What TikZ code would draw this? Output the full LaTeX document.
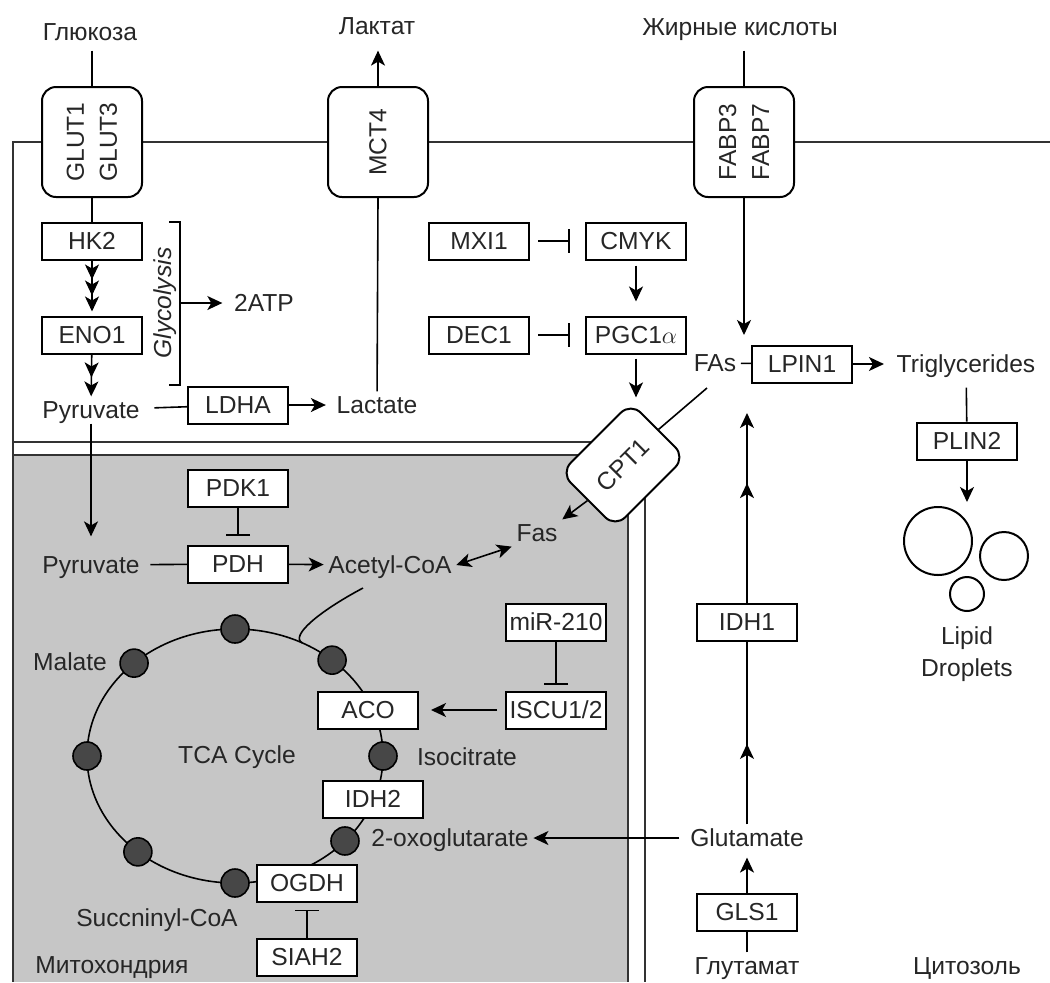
\documentclass[tikz,border=0pt]{standalone}
\usepackage{fontspec}
\setmainfont{Liberation Sans}
\usetikzlibrary{arrows.meta,calc,decorations.markings}
\newcommand\mainsz{\fontsize{12.3}{15}\selectfont}

\begin{document}
\begin{tikzpicture}[x=0.5pt, y=-0.5pt, line width=0.8pt,
   arrhd/.tip={Stealth[length=7.5pt,width=7pt,inset=2pt]}, >=arrhd,
   txt/.style={inner sep=2pt, text height=8.8pt, text depth=0pt, font=\mainsz, text=black!85},
   enzyme/.style={txt, draw=black, line width=1pt, fill=white, minimum width=50pt, minimum height=18.5pt, inner sep=0pt},
   pbox/.style={draw=black, line width=1pt, fill=white, rounded corners=7pt, inner sep=0pt, text=black!85},
   porter/.style={pbox, rotate=90, minimum width=55pt, minimum height=50pt, align=center, font=\fontsize{12.3}{16.5}\selectfont},
   metab/.style={circle, draw=black, fill=black!72, minimum size=14pt, inner sep=0pt},
   drop/.style={circle, draw=black, line width=1pt, inner sep=0pt},
   inhib/.style={-{Bar[width=12pt]}},
   membr/.style={line width=1.2pt, draw=black!80},
   midarr/.style={postaction={decorate}, decoration={markings, mark=at position #1 with {\arrow{arrhd}}}}]

   \useasboundingbox (0,0) rectangle (1050,982);

   % cell and mitochondrion
   \fill[gray!45] (13,455) rectangle (628,982);
   \draw[membr] (1050,142) -- (13,142) -- (13,982);
   \draw[membr] (13,442) -- (640,442);
   \draw[membr] (13,455) -- (620,455);
   \draw[membr] (628,480) -- (628,982);
   \draw[membr] (645,470) -- (645,982);

   % TCA cycle
   \coordinate (tca) at (235,756);
   \draw (tca) ellipse (148 and 127);
   \foreach \a in {0,42,90,131,180,227,270,311}
      \node[metab] at ($(tca)+(\a:148 and 127)$) {};

   % outside
   \node[txt] (glucose) at (90,32) {Глюкоза};
   \node[txt] (lactout) at (377,26) {Лактат};
   \node[txt] (fatacid) at (740,27) {Жирные кислоты};

   \node[porter] (glut) at (92,142) {GLUT1\\GLUT3};
   \node[porter] (mct4) at (378,142) {MCT4};
   \node[porter] (fabp) at (744,142) {FABP3\\FABP7};

   % glycolysis
   \node[enzyme] (hk2) at (92,241) {HK2};
   \node[enzyme] (eno1) at (92,335) {ENO1};
   \node[txt] (pyrc) at (91,410) {Pyruvate};
   \node[txt, rotate=90, font=\mainsz\itshape] (glyclbl) at (163,303) {Glycolysis};
   \node[txt] (atp) at (264,303) {2ATP};
   \node[enzyme] (ldha) at (238,405) {LDHA};
   \node[txt] (lactin) at (377,405) {Lactate};
   \coordinate (glyc) at (180,303);

   \node[enzyme] (mxi1) at (479,241) {MXI1};
   \node[enzyme] (cmyk) at (636,241) {CMYK};
   \node[enzyme] (dec1) at (479,335) {DEC1};
   \node[enzyme] (pgc1a) at (636,335) {PGC1$\alpha$};

   % lipids
   \node[txt] (fas2) at (715,363) {FAs};
   \node[enzyme] (lpin1) at (802,364) {LPIN1};
   \node[txt] (trig) at (966,364) {Triglycerides};
   \node[enzyme] (plin2) at (967,441) {PLIN2};
   \node[drop, minimum size=34pt] (drop1) at (938,541) {};
   \node[drop, minimum size=24pt] (drop2) at (1004,556) {};
   \node[drop, minimum size=17pt] (drop3) at (967,594) {};
   \node[align=center, inner sep=0pt, font=\fontsize{12.3}{16}\selectfont, text=black!85] (lipid) at (967,654) {Lipid\\Droplets};
   \coordinate (dropin) at (967,502);
   \coordinate (fajoin) at (744,335);
   \coordinate (fain) at (707,388);

   \node[pbox, txt, inner sep=0pt, rotate=45, minimum width=49.5pt, minimum height=38.5pt] (cpt1) at (623,465) {CPT1};

   % glutamine
   \node[enzyme] (idh1) at (747,622) {IDH1};
   \node[txt] (glu) at (747,838) {Glutamate};
   \node[enzyme] (gls1) at (747,912) {GLS1};
   \node[txt] (glnt) at (747,966) {Глутамат};
   \node[txt] (cyto) at (967,966) {Цитозоль};
   \coordinate (idhout) at (747,413);

   % mitochondrion
   \node[txt] (pyrm) at (91,565) {Pyruvate};
   \node[enzyme] (pdk1) at (238,488) {PDK1};
   \node[enzyme] (pdh) at (238,564) {PDH};
   \node[txt] (acoa) at (390,565) {Acetyl-CoA};
   \node[txt] (fas) at (537,533) {Fas};
   \node[enzyme] (mir) at (556,622) {miR-210};
   \node[enzyme] (iscu) at (556,710) {ISCU1/2};
   \node[enzyme] (aco) at (368,710) {ACO};
   \node[enzyme] (idh2) at (373,799) {IDH2};
   \node[enzyme] (ogdh) at (307,883) {OGDH};
   \node[enzyme] (siah2) at (307,957) {SIAH2};
   \node[txt] (malate) at (70,662) {Malate};
   \node[txt] (tcalbl) at (237,755) {TCA Cycle};
   \node[txt] (isocit) at (467,757) {Isocitrate};
   \node[txt] (oxoglu) at (450,838) {2-oxoglutarate};
   \node[txt] (succ) at (157,918) {Succninyl-CoA};
   \node[txt] (mito) at (112,965) {Митохондрия};
   \coordinate (acin) at (363,588);
   \coordinate (tcain) at ($(tca)+(-63:148 and 127)$);

   % connectors
   \draw[shorten <=2.5pt] (glut.east |- glucose.south) -- (glut.east);
   \draw[->, shorten >=5.5pt] (mct4.east) -- (mct4.east |- lactout.south);
   \draw[shorten <=5pt] (fabp.east |- fatacid.south) -- (fabp.east);
   \draw (glut.west) -- (hk2);
   \draw[-{arrhd[sep=0.5pt]arrhd[sep=0.5pt]arrhd}, shorten >=2pt] (hk2) -- (eno1);
   \draw[-{arrhd[sep=2pt]arrhd}] (eno1) -- (pyrc);
   \draw (169,222) -- (180,222) -- (180,385) -- (169,385);
   \draw[->, shorten >=3.5pt] (glyc) -- (atp);
   \draw[shorten <=5pt] (pyrc) -- (ldha);
   \draw[->, shorten >=3pt] (ldha) -- (lactin);
   \draw (lactin) -- (mct4.west);

   \draw[inhib, shorten <=4pt, shorten >=7.5pt] (mxi1) -- (cmyk);
   \draw[inhib, shorten <=4pt, shorten >=7.5pt] (dec1) -- (pgc1a);
   \draw[->, shorten <=2.5pt, shorten >=7pt] (cmyk) -- (pgc1a);
   \draw[->, shorten <=2pt, shorten >=2pt] (pgc1a.south) -- (pgc1a.south |- cpt1.north east);

   \draw[->] (fabp.west) -- (fajoin);
   \draw (fas2) -- (lpin1);
   \draw[->, shorten >=4pt] (lpin1) -- (trig);
   \draw[shorten <=5pt] (trig) -- (plin2);
   \draw[->] (plin2) -- (dropin);
   \draw (cpt1.east) -- (fain);
   \draw[->] (cpt1.west) -- (fas.north east);
   \draw[<->] (acoa.east) -- (fas.south west);

   \draw[->, shorten >=7.5pt] (pyrc) -- (pyrm);
   \draw[shorten <=3pt] (pyrm) -- (pdh);
   \draw[->] (pdh) -- (acoa);
   \draw[inhib, shorten >=4.5pt] (pdk1) -- (pdh);
   \draw (acin) .. controls (318,612) and (290,636) .. (tcain);
   \draw[inhib, shorten >=3pt] (mir) -- (iscu);
   \draw[->, shorten <=4pt, shorten >=6pt] (iscu) -- (aco);
   \draw[inhib, shorten >=3.5pt] (siah2) -- (ogdh);

   \draw[->, shorten <=3pt] (glu) -- (oxoglu);
   \draw[midarr=0.44] (glu) -- (idh1);
   \draw[->, midarr=0.63] (idh1) -- (idhout);
   \draw[->, shorten >=3pt] (gls1) -- (glu);
   \draw (glnt) -- (gls1);

\end{tikzpicture}
\end{document}
